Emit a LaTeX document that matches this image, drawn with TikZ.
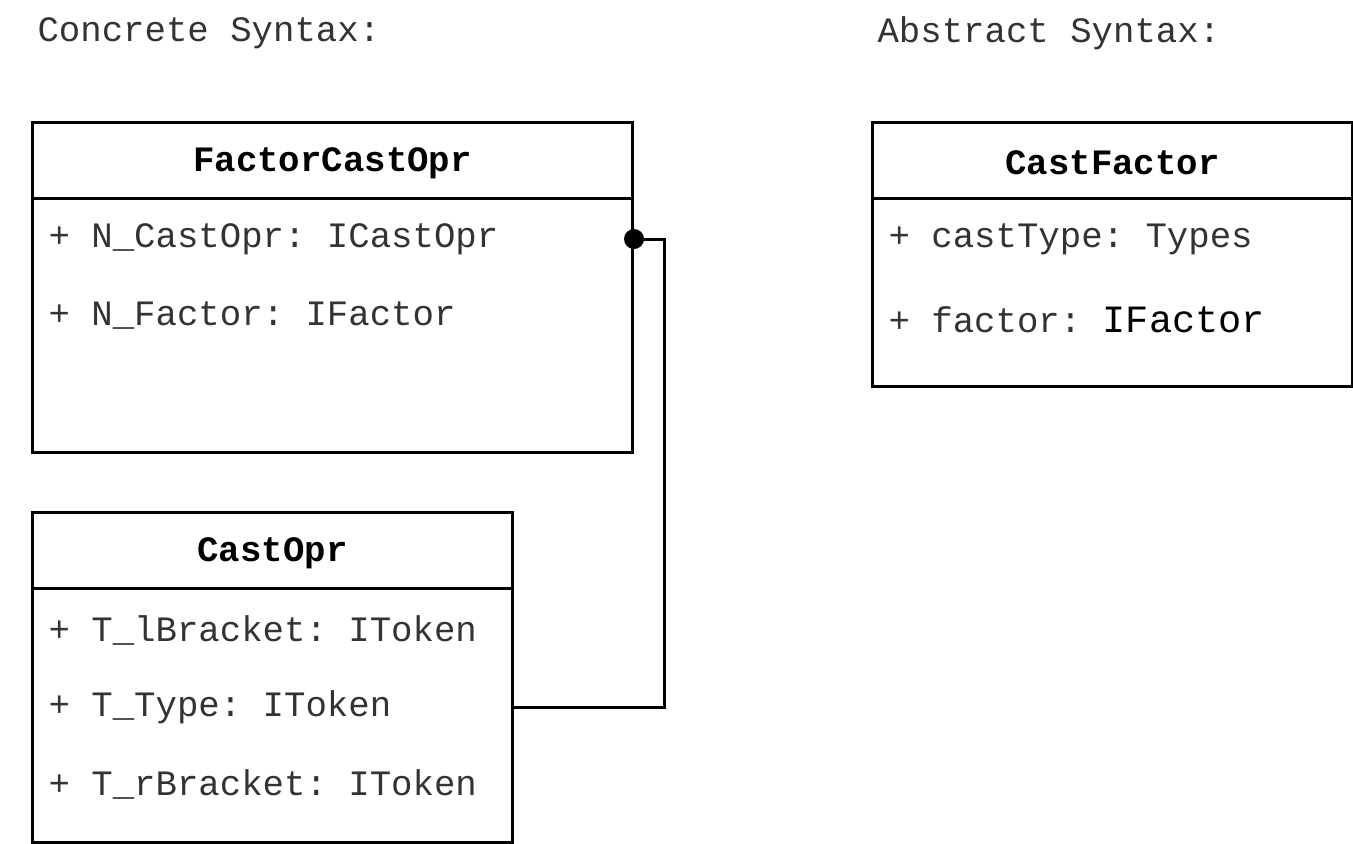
\documentclass[tikz,border=0pt]{standalone}
\usepackage{fontspec}
\setmainfont{Liberation Mono}
\setmonofont{Liberation Mono}
\frenchspacing
\usetikzlibrary{positioning}
\newcommand{\umlfont}{\fontsize{17.85}{20}\selectfont}
\tikzset{line width=1.5pt,
  every node/.style={font=\umlfont,text=black!80},
  classbox/.style={draw,line width=1.5pt,rectangle,inner sep=0pt,anchor=north west,minimum width=#1},
  title/.style={font=\umlfont\bfseries,text=black},
  attr/.style={anchor=west,inner sep=0pt},
  heading/.style={anchor=west,inner sep=0pt},
  link/.style={draw,line width=1.5pt}}
\begin{document}
\begin{tikzpicture}[x=0.5pt,y=-0.5pt,line width=1.5pt]
\useasboundingbox (0,0) rectangle (1353,843);
\node[heading] (conc) at (36,33) {Concrete Syntax:};
\node[heading] (abst) at (876,33) {Abstract Syntax:};
% concrete side
\node[classbox=300pt,minimum height=165pt] (fco) at (31,121) {};
\node[classbox=240pt,minimum height=165pt] (co) at (31,511) {};
\node[title] (fcot) at ([yshift=-21pt]fco.north) {FactorCastOpr};
\node[title] (cot) at ([yshift=-21pt]co.north) {CastOpr};
\draw ([yshift=-38.5pt]fco.north west) -- ([yshift=-38.5pt]fco.north east);
\draw ([yshift=-38.5pt]co.north west) -- ([yshift=-38.5pt]co.north east);
\foreach \t [count=\i] in {N\_CastOpr: ICastOpr,N\_Factor: IFactor}
  \node[attr] (fco\i) at (47,{162+77*\i}) {+ \t};
\foreach \t [count=\i] in {T\_lBracket: IToken,T\_Type: IToken,T\_rBracket: IToken}
  \node[attr] (co\i) at (47,{553+77*\i}) {+ \t};
% abstract side
\node[classbox=240pt,minimum height=132pt] (cf) at (871,121) {};
\node[title] (cft) at ([yshift=-21pt]cf.north) {CastFactor};
\draw ([yshift=-38.5pt]cf.north west) -- ([yshift=-38.5pt]cf.north east);
\node[attr] (cf1) at (887,239) {+ castType: Types};
\node[attr] (cf2) at (887,320) {+ factor: {\fontsize{19.3}{22}\selectfont\color{black}IFactor}};
% composition link
\coordinate (bend) at ([xshift=75pt]co.east |- co2);
\draw[link] (co.east |- co2) -- (bend) |- (fco.east |- fco1);
\fill (fco.east |- fco1) circle (5pt);
\end{tikzpicture}
\end{document}
